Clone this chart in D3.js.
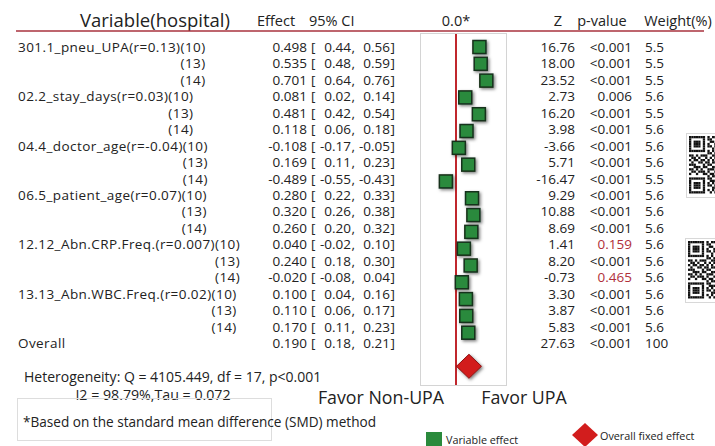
<!DOCTYPE html>
<html>
<head>
<meta charset="utf-8">
<script src="https://cdn.jsdelivr.net/npm/d3@7"></script>
<style>
  html, body { margin: 0; padding: 0; background: #fff; }
  svg { display: block; font-family: "Open Sans", "Noto Sans", sans-serif; }
  text { white-space: pre; }
</style>
</head>
<body>
<svg width="715" height="446"></svg>
<script>
// Variables (one per group, three hospitals each)
var groups = [
    '301.1_pneu_UPA(r=0.13)',
    '02.2_stay_days(r=0.03)',
    '04.4_doctor_age(r=-0.04)',
    '06.5_patient_age(r=0.07)',
    '12.12_Abn.CRP.Freq.(r=0.007)',
    '13.13_Abn.WBC.Freq.(r=0.02)'
];
var hospitals = ['(10)', '(13)', '(14)'];

// Per-row statistics, in group/hospital order
var effects = [0.498, 0.535, 0.701, 0.081, 0.481, 0.118, -0.108, 0.169, -0.489,
    0.280, 0.320, 0.260, 0.040, 0.240, -0.020, 0.100, 0.110, 0.170];
var ciLow = [0.44, 0.48, 0.64, 0.02, 0.42, 0.06, -0.17, 0.11, -0.55,
    0.22, 0.26, 0.20, -0.02, 0.18, -0.08, 0.04, 0.06, 0.11];
var ciHigh = [0.56, 0.59, 0.76, 0.14, 0.54, 0.18, -0.05, 0.23, -0.43,
    0.33, 0.38, 0.32, 0.10, 0.30, 0.04, 0.16, 0.17, 0.23];
var zValues = [16.76, 18.00, 23.52, 2.73, 16.20, 3.98, -3.66, 5.71, -16.47,
    9.29, 10.88, 8.69, 1.41, 8.20, -0.73, 3.30, 3.87, 5.83];
var pValues = ['<0.001', '<0.001', '<0.001', '0.006', '<0.001', '<0.001', '<0.001', '<0.001', '<0.001',
    '<0.001', '<0.001', '<0.001', '0.159', '<0.001', '0.465', '<0.001', '<0.001', '<0.001'];
var weights = ['5.5', '5.5', '5.5', '5.6', '5.5', '5.6', '5.6', '5.6', '5.5',
    '5.6', '5.6', '5.6', '5.6', '5.6', '5.6', '5.6', '5.6', '5.6'];

// Overall fixed effect
var overall = { effect: 0.190, low: 0.18, high: 0.21, z: 27.63, p: '<0.001', weight: '100' };

var heterogeneityLines = [
    'Heterogeneity: Q = 4105.449, df = 17, p<0.001',
    'I2 = 98.79%,Tau = 0.072'
];
var footnote = '*Based on the standard mean difference (SMD) method';

// QR code modules (left part only, the rest falls off the page)
var qrRows = [
    '1111111010110', '1000001011001', '1011101001101', '1011101010010',
    '1011101011011', '1000001000101', '1111111010101', '0000000011010',
    '1101011100110', '0110100101011', '1011011010100', '0100110110111',
    '1110001011001', '0011101100110', '1101010011101', '0110111010010',
    '1001001101101', '0000000010110', '1111111011001', '1000001001110',
    '1011101010101', '1011101011010', '1011101000111', '1000001010100',
    '1111111001011'
];

var textColor = '#222';
var ruleColor = '#a8323e';
var zeroColor = '#c0272d';
var boxColor = '#d4d4d4';
var squareFill = '#2a8a3c';
var squareStroke = '#16301b';
var diamondFill = '#d21d1d';
var diamondStroke = '#8a1212';
var pRed = '#b0303a';

var svg = d3.select('svg');

var defs = svg.append('defs');
var shadow = defs.append('filter').attr('id', 'shadow')
    .attr('x', '-40%').attr('y', '-40%').attr('width', '180%').attr('height', '180%');
shadow.append('feDropShadow')
    .attr('dx', 1.5).attr('dy', 1.5).attr('stdDeviation', 1.4)
    .attr('flood-color', '#000').attr('flood-opacity', 0.5);

// Rows: text and markers drift slightly apart in the original
var rowCount = effects.length;
var textY = d3.scaleLinear().domain([0, rowCount]).range([47, 343]);
var markY = d3.scaleLinear().domain([0, rowCount - 1]).range([47, 332.7]);

// Effect scale of the forest plot
var x = d3.scaleLinear().domain([-1, 1]).range([422, 490]);
var squareSize = 13;

function fmt2(v) { return d3.format('.2f')(v).replace('−', '-'); }
function fmt3(v) { return d3.format('.3f')(v).replace('−', '-'); }

// Header
var header = svg.append('g').attr('fill', textColor);
header.append('text').attr('x', 80).attr('y', 27).attr('font-size', 18.5).text('Variable(hospital)');
header.append('text').attr('x', 257).attr('y', 26).attr('font-size', 14.5).text('Effect');
header.append('text').attr('x', 309).attr('y', 26).attr('font-size', 14.5).text('95% CI');
header.append('text').attr('x', 456).attr('y', 26).attr('font-size', 14.5).attr('text-anchor', 'middle').text('0.0*');
header.append('text').attr('x', 558).attr('y', 26).attr('font-size', 14.5).attr('text-anchor', 'middle').text('Z');
header.append('text').attr('x', 602).attr('y', 26).attr('font-size', 14.5).attr('text-anchor', 'middle').text('p-value');
header.append('text').attr('x', 678).attr('y', 26).attr('font-size', 14.5).attr('text-anchor', 'middle').text('Weight(%)');

svg.append('line')
    .attr('x1', 16).attr('x2', 704).attr('y1', 31).attr('y2', 31)
    .attr('stroke', ruleColor).attr('stroke-width', 1.5);

// Plot box and zero line
svg.append('rect')
    .attr('x', 420.5).attr('y', 33.5).attr('width', 86).attr('height', 352)
    .attr('fill', 'none').attr('stroke', boxColor);
svg.append('line')
    .attr('x1', x(0)).attr('x2', x(0)).attr('y1', 34).attr('y2', 385)
    .attr('stroke', zeroColor).attr('stroke-width', 2);

// Row labels
var labels = svg.append('g').attr('fill', textColor).attr('font-size', 13.5)
    .attr('letter-spacing', 0.43);
groups.forEach(function (name, gi) {
    var first = labels.append('text')
        .attr('x', 18).attr('y', textY(gi * 3) + 5)
        .text(name + hospitals[0]);
    var right = 18 + first.node().getComputedTextLength();
    hospitals.slice(1).forEach(function (h, hi) {
        labels.append('text')
            .attr('x', right).attr('y', textY(gi * 3 + hi + 1) + 5)
            .attr('text-anchor', 'end')
            .text(h);
    });
});
labels.append('text').attr('x', 18).attr('y', textY(rowCount) + 5).text('Overall');

// Numeric columns
var rows = effects.map(function (e, i) {
    return { effect: e, low: ciLow[i], high: ciHigh[i], z: zValues[i], p: pValues[i], weight: weights[i], i: i };
});
var allRows = rows.concat([{ effect: overall.effect, low: overall.low, high: overall.high,
    z: overall.z, p: overall.p, weight: overall.weight, i: rowCount }]);

var table = svg.append('g').attr('fill', textColor).attr('font-size', 13.5);
function column(cls, xPos, anchor, textFn) {
    return table.selectAll('text.' + cls).data(allRows).enter().append('text')
        .attr('class', cls).attr('x', xPos)
        .attr('y', function (d) { return textY(d.i) + 5; })
        .attr('text-anchor', anchor)
        .text(textFn);
}
column('eff', 307, 'end', function (d) { return fmt3(d.effect); });
column('lb', 311, 'start', '[');
column('lo', 351, 'end', function (d) { return fmt2(d.low); });
column('cm', 351.5, 'start', ',');
column('hi', 390, 'end', function (d) { return fmt2(d.high); });
column('rb', 390.5, 'start', ']');
column('z', 575, 'end', function (d) { return fmt2(d.z); });
column('p', 632, 'end', function (d) { return d.p; })
    .attr('fill', function (d) { return d.p.charAt(0) === '<' || +d.p < 0.05 ? textColor : pRed; });
column('w', 645, 'start', function (d) { return d.weight; });

// Markers
svg.append('g').selectAll('rect').data(rows).enter().append('rect')
    .attr('x', function (d) { return x(d.effect); })
    .attr('y', function (d) { return markY(d.i) - squareSize / 2; })
    .attr('width', squareSize).attr('height', squareSize)
    .attr('fill', squareFill).attr('stroke', squareStroke).attr('stroke-width', 1.5)
    .attr('filter', 'url(#shadow)');

function diamondPath(cx, cy, hw, hh) {
    return 'M' + (cx - hw) + ',' + cy + 'L' + cx + ',' + (cy - hh) +
        'L' + (cx + hw) + ',' + cy + 'L' + cx + ',' + (cy + hh) + 'Z';
}
svg.append('path')
    .attr('d', diamondPath(x(overall.effect) + squareSize / 2, markY(rowCount + 1), 12.5, 12))
    .attr('fill', diamondFill).attr('stroke', diamondStroke).attr('stroke-width', 1)
    .attr('filter', 'url(#shadow)');

// Favor labels
svg.append('text').attr('x', 381).attr('y', 404).attr('font-size', 17.8).attr('text-anchor', 'middle')
    .attr('fill', textColor).text('Favor Non-UPA');
svg.append('text').attr('x', 524).attr('y', 404).attr('font-size', 17.8).attr('text-anchor', 'middle')
    .attr('fill', textColor).text('Favor UPA');

// Heterogeneity and footnote
svg.append('text').attr('x', 24).attr('y', 382).attr('font-size', 14).attr('fill', textColor).text(heterogeneityLines[0]);
svg.append('text').attr('x', 153).attr('y', 400).attr('font-size', 14.2).attr('text-anchor', 'middle')
    .attr('fill', textColor).text(heterogeneityLines[1]);
svg.append('rect').attr('x', 17.5).attr('y', 398.5).attr('width', 254).attr('height', 42)
    .attr('fill', 'none').attr('stroke', '#ddd');
svg.append('text').attr('x', 23).attr('y', 427).attr('font-size', 13.6).attr('fill', textColor).text(footnote);

// Legend
var legend = svg.append('g').attr('font-size', 10.8).attr('fill', textColor);
legend.append('rect').attr('x', 426).attr('y', 432).attr('width', 16).attr('height', 15).attr('fill', squareFill);
legend.append('text').attr('x', 446).attr('y', 444).text('Variable effect');
legend.append('path').attr('d', diamondPath(585, 435, 13, 12)).attr('fill', diamondFill);
legend.append('text').attr('x', 600).attr('y', 440).text('Overall fixed effect');

// QR codes at the right edge
function drawQr(x0, y0) {
    var g = svg.append('g');
    g.append('rect').attr('x', x0 + 0.5).attr('y', y0 + 0.5).attr('width', 62).attr('height', 64)
        .attr('fill', '#fff').attr('stroke', '#d8d8d8');
    var m = 2.3;
    qrRows.forEach(function (row, r) {
        row.split('').forEach(function (c, k) {
            if (c === '1') {
                g.append('rect').attr('x', x0 + 3 + k * m).attr('y', y0 + 3 + r * m)
                    .attr('width', m).attr('height', m).attr('fill', '#111');
            }
        });
    });
}
drawQr(686, 133);
drawQr(685, 238);
</script>
</body>
</html>
